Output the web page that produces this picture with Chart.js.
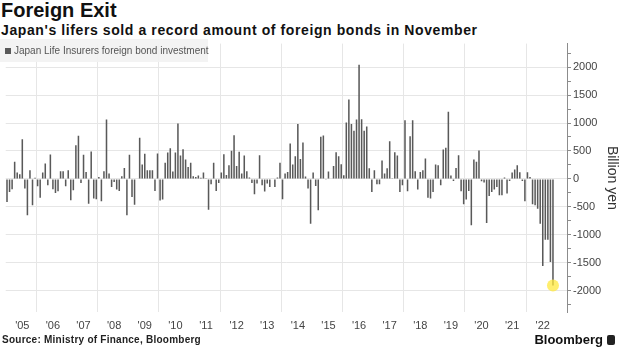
<!DOCTYPE html>
<html>
<head>
<meta charset="utf-8">
<script src="https://cdn.jsdelivr.net/npm/chart.js@4.4.0/dist/chart.umd.min.js"></script>
<style>
  body { margin: 0; width: 620px; height: 348px; background: #fff; position: relative; overflow: hidden;
         font-family: "Liberation Sans", Arial, sans-serif; }
  #title { position: absolute; left: 1px; top: -1px; font-size: 20px; font-weight: bold; color: #111; }
  #subtitle { position: absolute; left: 1px; top: 22px; font-size: 14px; font-weight: bold; color: #111; letter-spacing: 0.6px; }
  #wrap { position: absolute; left: 0; top: 35px; width: 620px; height: 302px; }
  #legend { position: absolute; left: 0; top: 39px; width: 208px; height: 23px; background: rgba(242,242,242,0.92);
            font-size: 10px; color: #555; line-height: 23px; white-space: nowrap; }
  #legend i { display: inline-block; width: 6px; height: 6px; background: #595959; margin: 0 3px 0 5px; vertical-align: 0; }
  #source { position: absolute; left: 2px; top: 334px; font-size: 10px; font-weight: bold; color: #222; letter-spacing: 0.25px; }
  #brand { position: absolute; right: 5px; top: 332px; font-size: 13px; font-weight: bold; color: #111; white-space: nowrap; }
  #brand b { display: inline-block; width: 8px; height: 10px; background: #222; border-radius: 2px; margin-left: 4px; vertical-align: -1px; }
</style>
</head>
<body>
<div id="title">Foreign Exit</div>
<div id="subtitle">Japan's lifers sold a record amount of foreign bonds in November</div>
<div id="wrap"><canvas id="chart"></canvas></div>
<div id="legend"><i></i>Japan Life Insurers foreign bond investment</div>
<div id="source">Source: Ministry of Finance, Bloomberg</div>
<div id="brand">Bloomberg<b></b></div>
<script>
// year labels on the x axis, one per year starting 2005
const yearLabels = ["'05", "'06", "'07", "'08", "'09", "'10", "'11", "'12", "'13",
                    "'14", "'15", "'16", "'17", "'18", "'19", "'20", "'21", "'22"];

// monthly net foreign bond investment, billion yen (Jan 2005 - Nov 2022)
const investment = [
  -412, -233, -185, 305, 113, 84, 711, -173, -651, 155, -472, 20,        // 2005
  -131, -335, 113, 275, -113, 436, -185, -251, -221, 137, 137, -131,     // 2006
  155, -382, -203, 603, 771, -72, 430, 125, -442, 490, -352, -364,       // 2007
  36, -400, 137, 1063, 96, -143, -54, -191, -215, 48, 197, -651,         // 2008
  430, -323, -460, 0, 735, 257, 448, 155, 155, 155, -215, 454,           // 2009
  -388, -370, 287, 472, 550, 131, 472, 992, 418, 532, 347, 215,          // 2010
  287, 48, 36, 60, 20, 113, 10, -550, -96, 287, -215, -72,               // 2011
  113, 442, 72, 245, 502, 783, 233, 484, 96, 418, 137, 24,               // 2012
  -72, -275, -84, 424, -113, -227, -84, -143, 0, -143, 24, 287,          // 2013
  -364, 96, 125, 633, 257, 406, 980, 358, 651, 42, -173, -800,           // 2014
  113, -125, -562, 753, 777, -5, 131, 0, 233, 478, 406, 263,             // 2015
  66, 1010, 1422, 980, 860, 1063, 2043, 1069, 860, 938, 191, -233,       // 2016
  155, -96, -96, 329, 96, 191, 675, 10, 478, 418, -233, -113,            // 2017
  1051, -221, 765, 1051, 137, -191, 125, 155, 364, -335, -352, -233,     // 2018
  257, 245, -113, 526, 556, 1201, 60, -36, 197, 424, -221, -454,         // 2019
  -370, -215, -830, 347, 305, 508, -42, -66, -789, -305, -233, -191,     // 2020
  -143, -293, -293, 24, -263, -36, 113, 167, 245, 119, -36, -400,        // 2021
  119, 36, -454, -472, -532, -801, -1559, -1087, -1087, -1488, -1906     // 2022
];

// right axis ticks: labelled every 500, minor marks in between
const yTicks = [-2250, -2000, -1750, -1500, -1250, -1000, -750, -500, -250, 0,
                250, 500, 750, 1000, 1250, 1500, 1750, 2000, 2250];
const yMin = -2380;
const yMax = 2420;
const extraSlots = 5; // empty months after the last bar

const labels = [];
yearLabels.forEach(y => { for (let m = 1; m <= 12; m++) labels.push(y + '-' + m); });
for (let i = 0; i < extraSlots - 1; i++) labels.push('');

const highlight = investment.map((v, i) => i === investment.length - 1 ? v : null);

new Chart(document.getElementById('chart'), {
  type: 'bar',
  data: {
    labels: labels,
    datasets: [{
      type: 'line',
      data: highlight,
      showLine: false,
      pointRadius: 6,
      pointBorderWidth: 0,
      pointBackgroundColor: 'rgba(255, 232, 60, 0.75)',
      order: 0
    }, {
      data: investment,
      backgroundColor: '#595959',
      barPercentage: 0.6,
      categoryPercentage: 1,
      order: 1
    }]
  },
  options: {
    responsive: true,
    maintainAspectRatio: false,
    animation: false,
    layout: { autoPadding: false, padding: { top: 4, left: 0, right: 0, bottom: 0 } },
    plugins: { legend: { display: false }, tooltip: { enabled: false } },
    scales: {
      x: {
        offset: true,
        border: { display: false },
        grid: {
          offset: true,
          drawTicks: false,
          color: ctx => (ctx.index % 24 === 12 ? '#e6e6e6' : 'rgba(0,0,0,0)')
        },
        ticks: {
          autoSkip: false,
          maxRotation: 0,
          minRotation: 0,
          padding: 7,
          color: '#444',
          font: { size: 11, family: 'Liberation Sans' },
          callback: (value, index) => (index % 12 === 6 && index < yearLabels.length * 12 ? yearLabels[Math.floor(index / 12)] : '')
        },
        afterFit: scale => { scale.height = 25; }
      },
      y: {
        position: 'right',
        min: yMin,
        max: yMax,
        border: { display: true, color: '#8c8c8c' },
        afterBuildTicks: scale => { scale.ticks = yTicks.map(v => ({ value: v })); },
        grid: {
          color: ctx => (ctx.tick && ctx.tick.value % 500 === 0 ? '#e6e6e6' : 'rgba(0,0,0,0)'),
          tickColor: '#8c8c8c',
          tickLength: 4
        },
        ticks: {
          autoSkip: false,
          padding: 2,
          color: '#444',
          font: { size: 11, family: 'Liberation Sans' },
          callback: value => (value % 500 === 0 ? String(value) : '')
        },
        title: {
          display: true,
          text: 'Billion yen',
          color: '#333',
          font: { size: 14, family: 'Liberation Sans' },
          padding: 0
        },
        afterFit: scale => { scale.width = 53; }
      }
    }
  }
});
</script>
</body>
</html>
